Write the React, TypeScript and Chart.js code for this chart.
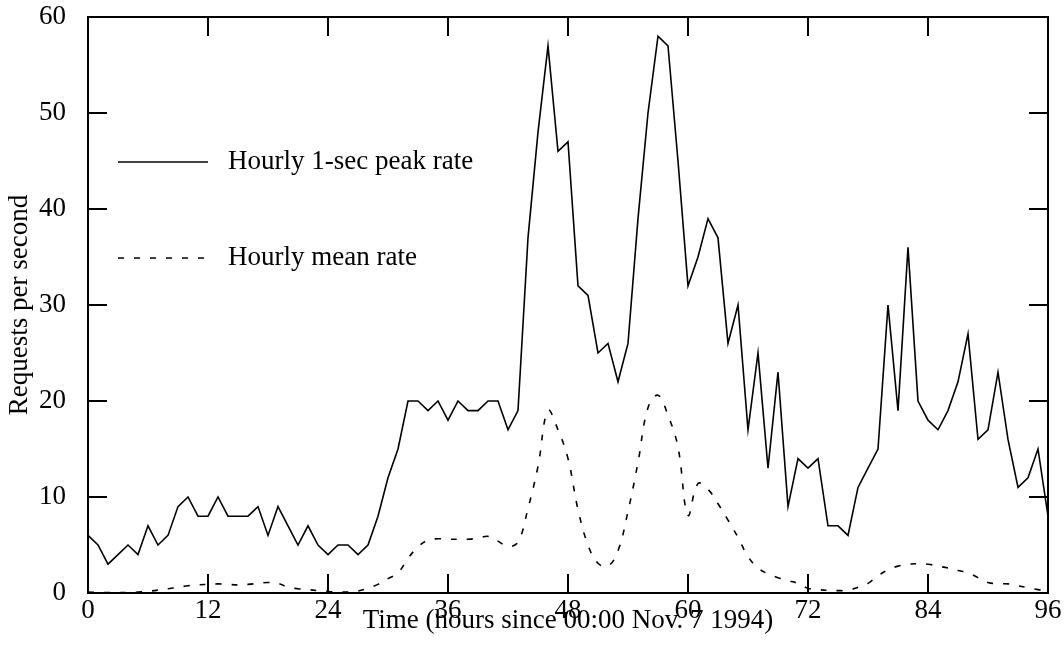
import React, { useEffect, useRef } from "react";
import { Chart, registerables } from "chart.js";

Chart.register(...registerables);

// Hourly 1-sec peak rate, hours 0..96
const PEAK_RATE = [
  6, 5, 3, 4, 5, 4, 7, 5, 6, 9, 10, 8, 8, 10, 8, 8, 8, 9, 6, 9, 7, 5, 7, 5, 4,
  5, 5, 4, 5, 8, 12, 15, 20, 20, 19, 20, 18, 20, 19, 19, 20, 20, 17, 19, 37, 48,
  57, 46, 47, 32, 31, 25, 26, 22, 26, 39, 50, 58, 57, 45, 32, 35, 39, 37, 26, 30,
  17, 25, 13, 23, 9, 14, 13, 14, 7, 7, 6, 11, 13, 15, 30, 19, 36, 20, 18, 17, 19,
  22, 27, 16, 17, 23, 16, 11, 12, 15, 8,
];

// Hourly mean rate, hours 0..96
const MEAN_RATE = [
  0.1, 0.05, 0.05, 0.05, 0.05, 0.1, 0.18, 0.3, 0.45, 0.6, 0.75, 0.85, 0.9, 0.95,
  0.9, 0.85, 0.9, 1.0, 1.1, 1.0, 0.6, 0.45, 0.35, 0.25, 0.15, 0.1, 0.1, 0.2, 0.5,
  0.9, 1.5, 2.1, 3.6, 4.8, 5.5, 5.65, 5.6, 5.6, 5.6, 5.7, 5.9, 5.4, 4.85, 5.3,
  8.8, 13.2, 19.0, 17.0, 14.0, 8.7, 5.0, 3.1, 2.8, 4.4, 8.5, 13.6, 19.3, 20.6,
  18.5, 15.2, 8.1, 11.4, 10.8, 9.3, 7.6, 5.8, 3.8, 2.6, 2.0, 1.6, 1.3, 1.0, 0.5,
  0.35, 0.28, 0.25, 0.28, 0.6, 1.0, 1.8, 2.4, 2.8, 3.0, 3.05, 3.0, 2.8, 2.6, 2.35,
  2.1, 1.6, 1.1, 0.97, 0.95, 0.75, 0.55, 0.35, 0.25,
];

const HOURS = PEAK_RATE.map((_, i) => i);

const SERIES_LABELS = ["Hourly 1-sec peak rate", "Hourly mean rate"];
const X_TITLE = "Time (hours since 00:00 Nov. 7 1994)";
const Y_TITLE = "Requests per second";
const X_STEP = 12;
const Y_STEP = 10;

const FONT_FAMILY = "'Liberation Serif', 'DejaVu Serif', serif";
const FONT_SIZE = 27;

const framePlugin = {
  id: "frameTicks",
  afterDraw(chart: any) {
    const { ctx, chartArea } = chart;
    const { left, right, top, bottom } = chartArea;
    const xs = chart.scales.x;
    const ys = chart.scales.y;
    const TL = 19;
    ctx.save();
    ctx.strokeStyle = "#000";
    ctx.lineWidth = 2;
    ctx.beginPath();
    ctx.rect(left, top, right - left, bottom - top);
    ctx.stroke();
    ctx.beginPath();
    xs.ticks.forEach((t: any) => {
      const px = Math.round(xs.getPixelForValue(t.value));
      ctx.moveTo(px, bottom);
      ctx.lineTo(px, bottom - TL);
      ctx.moveTo(px, top);
      ctx.lineTo(px, top + TL);
    });
    ys.ticks.forEach((t: any) => {
      const py = Math.round(ys.getPixelForValue(t.value));
      ctx.moveTo(left, py);
      ctx.lineTo(left + TL, py);
      ctx.moveTo(right, py);
      ctx.lineTo(right - TL, py);
    });
    ctx.stroke();
    ctx.restore();
  },
};

const legendPlugin = {
  id: "innerLegend",
  afterDraw(chart: any) {
    const { ctx, chartArea } = chart;
    ctx.save();
    ctx.font = `${FONT_SIZE}px ${FONT_FAMILY}`;
    ctx.fillStyle = "#000";
    ctx.textBaseline = "alphabetic";
    ctx.textAlign = "left";
    chart.data.datasets.forEach((ds: any, i: number) => {
      const y = chartArea.top + 145 + i * 96;
      ctx.beginPath();
      ctx.strokeStyle = "#000";
      ctx.lineWidth = 1.6;
      ctx.setLineDash(ds.borderDash || []);
      ctx.moveTo(chartArea.left + 30, y);
      ctx.lineTo(chartArea.left + 120, y);
      ctx.stroke();
      ctx.setLineDash([]);
      ctx.fillText(ds.label, chartArea.left + 140, y + 7);
    });
    ctx.restore();
  },
};

export default function App() {
  const canvasRef = useRef<HTMLCanvasElement | null>(null);

  useEffect(() => {
    if (!canvasRef.current) return;
    const font = { family: FONT_FAMILY, size: FONT_SIZE };
    const chart = new Chart(canvasRef.current, {
      type: "line",
      data: {
        datasets: [
          {
            label: SERIES_LABELS[0],
            data: HOURS.map((h, i) => ({ x: h, y: PEAK_RATE[i] })),
            borderColor: "#000",
            borderWidth: 1.6,
            pointRadius: 0,
            tension: 0,
            fill: false,
          },
          {
            label: SERIES_LABELS[1],
            data: HOURS.map((h, i) => ({ x: h, y: MEAN_RATE[i] })),
            borderColor: "#000",
            borderWidth: 1.6,
            borderDash: [6, 10],
            pointRadius: 0,
            tension: 0.4,
            fill: false,
          },
        ],
      },
      options: {
        responsive: false,
        animation: false,
        layout: { padding: { top: 17, right: 16, left: 0, bottom: 0 } },
        plugins: {
          legend: { display: false },
          tooltip: { enabled: false },
        },
        scales: {
          x: {
            type: "linear",
            min: 0,
            max: 96,
            ticks: {
              stepSize: X_STEP,
              color: "#000",
              font,
              padding: 2,
              maxRotation: 0,
              autoSkip: false,
            },
            grid: { display: false, drawTicks: false },
            border: { display: false },
            title: {
              display: true,
              text: X_TITLE,
              color: "#000",
              font,
              padding: { top: 0, bottom: 19 },
            },
            afterFit: (s: any) => {
              s.height = 63;
              s.paddingLeft = 0;
              s.paddingRight = 0;
            },
          },
          y: {
            type: "linear",
            min: 0,
            max: 60,
            ticks: {
              stepSize: Y_STEP,
              color: "#000",
              font,
              padding: 22,
            },
            grid: { display: false, drawTicks: false },
            border: { display: false },
            title: {
              display: true,
              text: Y_TITLE,
              color: "#000",
              font,
              padding: { top: 4, bottom: 0 },
            },
            afterFit: (s: any) => {
              s.width = 88;
              s.paddingTop = 0;
              s.paddingBottom = 0;
            },
          },
        },
      },
      plugins: [framePlugin, legendPlugin],
    });
    return () => chart.destroy();
  }, []);

  return (
    <div style={{ position: "absolute", left: 0, top: 0, width: 1064, height: 656, background: "#fff" }}>
      <canvas ref={canvasRef} width={1064} height={656} style={{ display: "block" }} />
    </div>
  );
}
